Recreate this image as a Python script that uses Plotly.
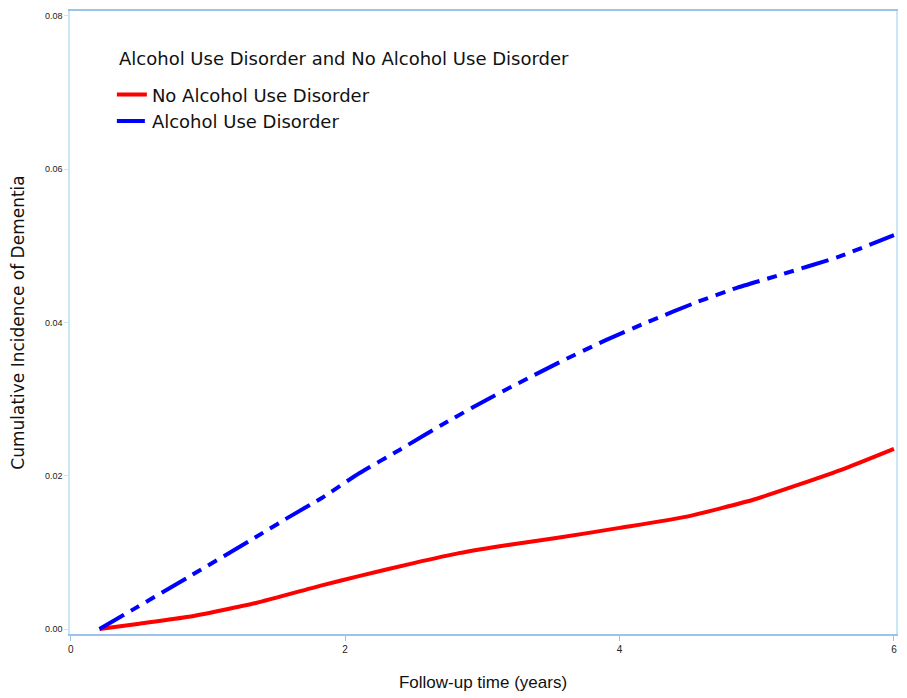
import plotly.graph_objects as go

# Follow-up time (years) and cumulative incidence of dementia per group
years_no_aud = [0.21, 0.5, 0.86, 1.35, 1.83, 2.1, 2.5, 2.83, 3.2, 3.55, 4.0, 4.5, 4.98, 5.3, 5.65, 6.0]
inc_no_aud = [0.0, 0.0007, 0.0016, 0.0034, 0.0057, 0.0069, 0.0086, 0.0099, 0.0110, 0.0119, 0.0132, 0.0147, 0.0169, 0.0188, 0.0210, 0.0235]

years_aud = [0.21, 0.45, 0.86, 1.35, 1.59, 1.83, 2.1, 2.39, 2.7, 3.04, 3.55, 3.9, 4.21, 4.57, 4.85, 5.15, 5.6, 6.0]
inc_aud = [0.0, 0.0025, 0.0068, 0.0120, 0.0146, 0.0171, 0.0203, 0.0233, 0.0266, 0.0300, 0.0347, 0.0377, 0.0401, 0.0427, 0.0445, 0.0461, 0.0486, 0.0514]

x_ticks = [0, 2, 4, 6]
y_ticks = [0.00, 0.02, 0.04, 0.06, 0.08]
y_tick_text = ["0.00", "0.02", "0.04", "0.06", "0.08"]

legend_title = "Alcohol Use Disorder and No Alcohol Use Disorder"

font_text = "DejaVu Sans, Verdana, sans-serif"
font_axis = "Liberation Sans, Arial, sans-serif"

fig = go.Figure()
fig.add_trace(go.Scatter(
    x=years_no_aud, y=inc_no_aud, mode="lines", name="No Alcohol Use Disorder",
    line=dict(color="#ff0000", width=4, shape="spline", smoothing=0.5),
))
fig.add_trace(go.Scatter(
    x=years_aud, y=inc_aud, mode="lines", name="Alcohol Use Disorder",
    line=dict(color="#0000ff", width=4, dash="28px,8px,10px,8px,10px,8px",
              shape="spline", smoothing=0.5),
))

# legend heading placed above the legend entries
fig.add_annotation(
    text=legend_title, xref="paper", yref="paper", x=0.0568, y=0.923,
    xanchor="left", yanchor="middle", showarrow=False,
    font=dict(size=18, family=font_text, color="#111111"),
)

fig.update_layout(
    width=907, height=698,
    margin=dict(l=70, r=9, t=10, b=64),
    paper_bgcolor="white", plot_bgcolor="white",
    font=dict(family=font_text, color="#000000"),
    showlegend=True,
    legend=dict(
        font=dict(size=18, family=font_text, color="#111111"),
        x=0.0507, y=0.895, xanchor="left", yanchor="top",
        bgcolor="rgba(0,0,0,0)", tracegroupgap=0, itemwidth=30,
    ),
    xaxis=dict(
        range=[-0.005, 6.015], tickvals=x_ticks, ticktext=[str(v) for v in x_ticks],
        showgrid=False, zeroline=False,
        showline=True, linecolor="#9cc3ea", linewidth=1.5, mirror=True,
        ticks="outside", ticklen=5, tickcolor="#9cc3ea",
        tickfont=dict(size=10, family=font_axis, color="#222222"),
        title=dict(text="Follow-up time (years)",
                   font=dict(size=17, family=font_axis, color="#111111"), standoff=22),
    ),
    yaxis=dict(
        range=[-0.00065, 0.08065], tickvals=y_ticks, ticktext=y_tick_text,
        showgrid=False, zeroline=False,
        showline=True, linecolor="#c8e8f6", linewidth=1.5, mirror=True,
        ticks="outside", ticklen=4, tickcolor="#c8e8f6",
        tickfont=dict(size=9, family=font_axis, color="#222222"),
        title=dict(text="Cumulative Incidence of Dementia",
                   font=dict(size=17, family=font_text, color="#111111"), standoff=16),
    ),
)

fig.write_html("out.html")
